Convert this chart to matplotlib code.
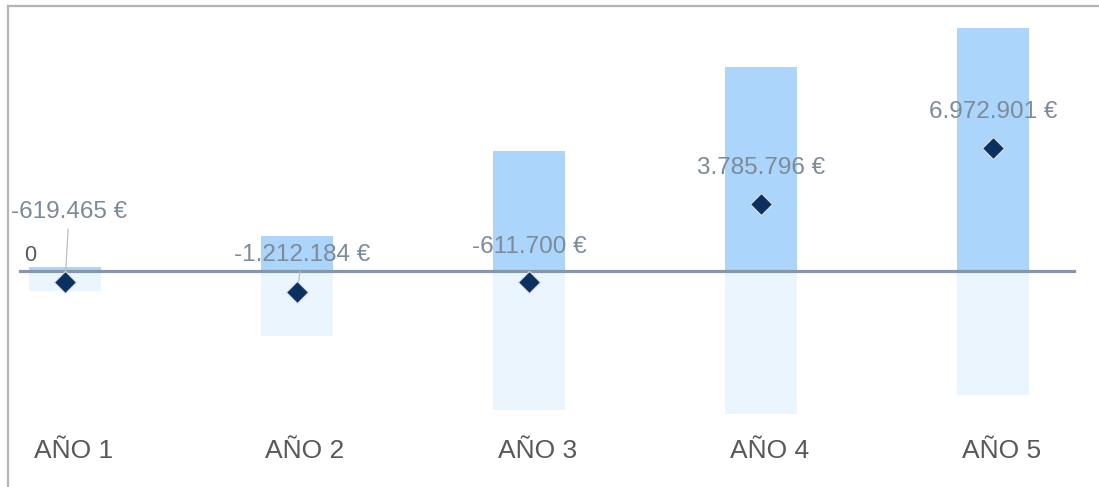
import numpy as np
import matplotlib.pyplot as plt
from matplotlib.lines import Line2D

# Datos por año (millones de euros para las barras, euros para el neto)
years = ["AÑO 1", "AÑO 2", "AÑO 3", "AÑO 4", "AÑO 5"]
ingresos = [0.23, 2.0, 6.8, 11.6, 13.8]
gastos = [-1.14, -3.7, -7.9, -8.1, -7.05]
neto = [-619465, -1212184, -611700, 3785796, 6972901]
neto_labels = ["-619.465 €", "-1.212.184 €", "-611.700 €", "3.785.796 €", "6.972.901 €"]

# desplazamiento de las etiquetas (puntos) y si llevan línea guía
label_offsets = [(3, 50), (4, 27), (0, 25), (0, 26), (0, 26)]
leader = [True, True, False, False, False]

c_pos = "#abd5fa"
c_neg = "#eaf5fd"
c_diamond = "#0b3161"
c_zero = "#8597a9"
c_label = "#7d8a98"
c_text = "#595959"

plt.rcParams["font.family"] = ["Liberation Sans", "DejaVu Sans"]

fig = plt.figure(figsize=(10.99, 4.87), dpi=100)
ax = fig.add_axes([0, 0, 1, 1])
ax.axis("off")

x = np.arange(len(years))
w = 0.31
ax.bar(x, ingresos, width=w, color=c_pos, zorder=1)
ax.bar(x, gastos, width=w, color=c_neg, zorder=1)

ax.axhline(0, xmin=20 / 1099, xmax=1074 / 1099, color=c_zero, lw=2.3, zorder=2)

neto_m = np.array(neto) / 1e6
ax.plot(x, neto_m, linestyle="none", marker="D", markersize=11.2,
        markerfacecolor=c_diamond, markeredgecolor="#d8dde4", markeredgewidth=0.8,
        zorder=4)

for i in range(len(years)):
    dx, dy = label_offsets[i]
    props = None
    if leader[i]:
        props = dict(arrowstyle="-", color="#b8bfc8", lw=0.9, shrinkA=2, shrinkB=0)
    ax.annotate(neto_labels[i], xy=(x[i], neto_m[i]), xytext=(dx, dy),
                textcoords="offset points", ha="center", va="center",
                fontsize=17.5, color=c_label, arrowprops=props, zorder=3)
    ax.text(x[i] + 0.035, 0.074, years[i], transform=ax.get_xaxis_transform(),
            ha="center", va="center", fontsize=19, color=c_text)

ax.text(24 / 1099, 0.3, "0", transform=ax.get_yaxis_transform(),
        ha="left", va="bottom", fontsize=15.5, color=c_text)

ax.set_xlim(-65 / 232, (1099 - 65) / 232)
ax.set_ylim(-216 / 17.6, 271 / 17.6)

# marco superior e izquierdo
fig.add_artist(Line2D([7.5 / 1099, 1], [1 - 6 / 487, 1 - 6 / 487], color="#b5b5b5", lw=1.6))
fig.add_artist(Line2D([7.5 / 1099, 7.5 / 1099], [0, 1 - 6 / 487], color="#b5b5b5", lw=1.6))

fig.savefig("out.png", dpi=100, facecolor="white")
